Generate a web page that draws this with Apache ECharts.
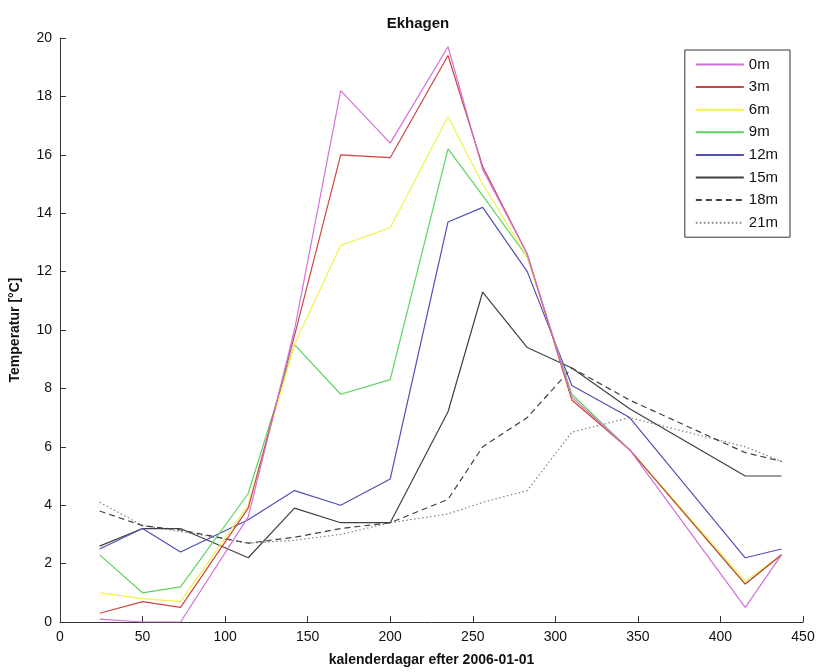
<!DOCTYPE html>
<html><head><meta charset="utf-8">
<script src="https://cdn.jsdelivr.net/npm/echarts@6/dist/echarts.min.js"></script>
<style>html,body{margin:0;padding:0;background:#fff}#c{width:821px;height:672px}</style>
</head><body><div id="c"></div>
<script>
const days = [24, 50, 73, 114, 142, 170, 200, 235, 256, 283, 310, 345, 415, 437];
const depthNames = ['0m','3m','6m','9m','12m','15m','18m','21m'];
const t0  = [0.1, 0.0, 0.0, 3.6, 10.0, 18.2, 16.4, 19.7, 15.5, 12.6, 7.7, 5.9, 0.5, 2.3];
const t3  = [0.3, 0.7, 0.5, 3.9, 9.8, 16.0, 15.9, 19.4, 15.6, 12.6, 7.6, 5.9, 1.3, 2.3];
const t6  = [1.0, 0.8, 0.7, 4.0, 9.5, 12.9, 13.5, 17.3, 15.0, 12.5, 7.7, 5.9, 1.4, 2.3];
const t9  = [2.3, 1.0, 1.2, 4.4, 9.5, 7.8, 8.3, 16.2, 14.6, 12.5, 7.8, 5.9, 1.3, 2.3];
const t12 = [2.5, 3.2, 2.4, 3.5, 4.5, 4.0, 4.9, 13.7, 14.2, 12.0, 8.1, 7.0, 2.2, 2.5];
const t15 = [2.6, 3.2, 3.2, 2.2, 3.9, 3.4, 3.4, 7.2, 11.3, 9.4, 8.7, 7.3, 5.0, 5.0];
const t18 = [3.8, 3.3, 3.15, 2.7, 2.9, 3.2, 3.4, 4.2, 6.0, 7.0, 8.7, 7.6, 5.8, 5.5];
const t21 = [4.1, 3.3, 3.1, 2.7, 2.8, 3.0, 3.4, 3.7, 4.1, 4.5, 6.5, 7.0, 6.0, 5.5];
const allTemps = [t0, t3, t6, t9, t12, t15, t18, t21];

const colors = ['#d070d8', '#cc4444', '#f2f24a', '#5ed25e', '#5050b4', '#404040', '#404040', '#808080'];
const types = ['solid','solid','solid','solid','solid','solid',[6,4],[1.5,2.5]];

const FONT = 'Liberation Sans, Arial, sans-serif';
const chart = echarts.init(document.getElementById('c'), null, {renderer: 'canvas'});
chart.setOption({
  animation: false,
  backgroundColor: '#fff',
  title: {text: 'Ekhagen', left: 413, top: 11, textAlign: 'center',
    textStyle: {fontFamily: FONT, fontSize: 15, fontWeight: 'bold', color: '#111'}},
  grid: {left: 60, right: 18, top: 38, bottom: 46},
  legend: {
    orient: 'vertical', right: 31, top: 50,
    data: depthNames,
    itemWidth: 48, itemHeight: 12, itemGap: 7.6,
    padding: [7, 12, 7, 10],
    borderColor: '#333', borderWidth: 1, backgroundColor: '#fff',
    itemStyle: {opacity: 0},
    textStyle: {fontFamily: FONT, fontSize: 15, color: '#111'}
  },
  xAxis: {
    type: 'value', min: 0, max: 450, interval: 50,
    name: 'kalenderdagar efter 2006-01-01', nameLocation: 'middle', nameGap: 31,
    nameTextStyle: {fontFamily: FONT, fontSize: 14, fontWeight: 'bold', color: '#111'},
    axisLine: {lineStyle: {color: '#333', width: 1}},
    axisTick: {inside: true, length: 6, lineStyle: {color: '#333'}},
    axisLabel: {fontFamily: FONT, fontSize: 14, color: '#111', margin: 8},
    splitLine: {show: false}
  },
  yAxis: {
    type: 'value', min: 0, max: 20, interval: 2,
    name: 'Temperatur [°C]', nameLocation: 'middle', nameGap: 38, nameRotate: 90,
    nameTextStyle: {fontFamily: FONT, fontSize: 14, fontWeight: 'bold', color: '#111'},
    axisLine: {show: true, lineStyle: {color: '#333', width: 1}},
    axisTick: {show: true, inside: true, length: 6, lineStyle: {color: '#333'}},
    axisLabel: {fontFamily: FONT, fontSize: 14, color: '#111', margin: 8},
    splitLine: {show: false}
  },
  series: depthNames.map((n, i) => ({
    name: n, type: 'line', symbol: 'none', showSymbol: false,
    data: days.map((d, j) => [d, allTemps[i][j]]),
    color: colors[i],
    lineStyle: {color: colors[i], width: 1.2, type: types[i]},
    z: 10 - i
  }))
});
</script></body></html>
